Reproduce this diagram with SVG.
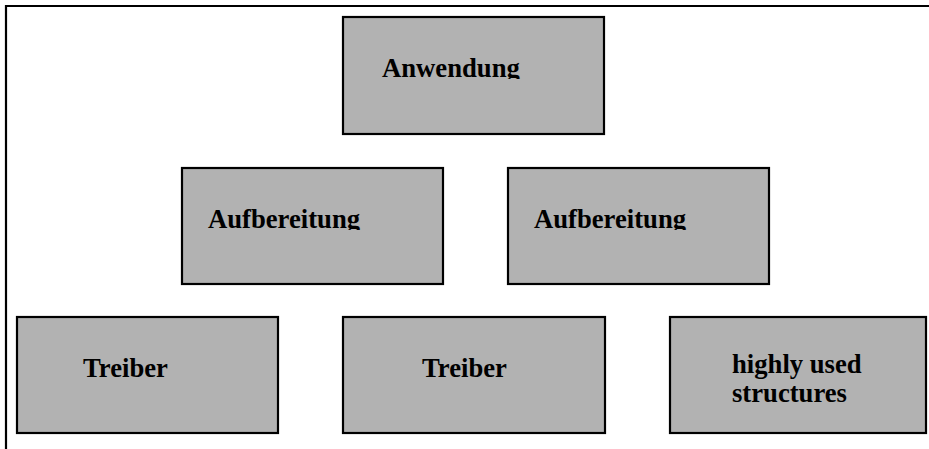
<svg xmlns="http://www.w3.org/2000/svg" width="929" height="449" viewBox="0 0 929 449">
  <style>
    .box { fill: #b2b2b2; stroke: #000; stroke-width: 2.2; }
    .lbl { font-family: "Liberation Serif", "Times New Roman", serif; font-weight: bold; font-size: 26.67px; fill: #000; }
    .frame { stroke: #000; stroke-width: 2.2; fill: none; }
  </style>
  <defs>
    <!-- labels are cut just below the baseline -->
    <clipPath id="clipTop"><rect x="343" y="17" width="262" height="62"/></clipPath>
    <clipPath id="clipMidL"><rect x="182" y="168" width="261" height="62"/></clipPath>
    <clipPath id="clipMidR"><rect x="508" y="168" width="261" height="62"/></clipPath>
  </defs>

  <!-- outer frame: top and left edges -->
  <path class="frame" d="M6 449 V6 H929"/>

  <g id="anwendung">
    <rect class="box" x="343" y="17" width="261" height="117"/>
    <text class="lbl" x="382" y="77" clip-path="url(#clipTop)">Anwendung</text>
  </g>

  <g id="aufbereitung-1">
    <rect class="box" x="182" y="168" width="261" height="116"/>
    <text class="lbl" x="208" y="228" clip-path="url(#clipMidL)">Aufbereitung</text>
  </g>

  <g id="aufbereitung-2">
    <rect class="box" x="508" y="168" width="261" height="116"/>
    <text class="lbl" x="534" y="228" clip-path="url(#clipMidR)">Aufbereitung</text>
  </g>

  <g id="treiber-1">
    <rect class="box" x="17" y="317" width="261" height="116"/>
    <text class="lbl" x="83" y="377">Treiber</text>
  </g>

  <g id="treiber-2">
    <rect class="box" x="343" y="317" width="262" height="116"/>
    <text class="lbl" x="422" y="377">Treiber</text>
  </g>

  <g id="highly-used-structures">
    <rect class="box" x="670" y="317" width="256" height="116"/>
    <text class="lbl" x="732" y="373">highly used</text>
    <text class="lbl" x="732" y="402">structures</text>
  </g>

  <g id="connectors"/>
</svg>
